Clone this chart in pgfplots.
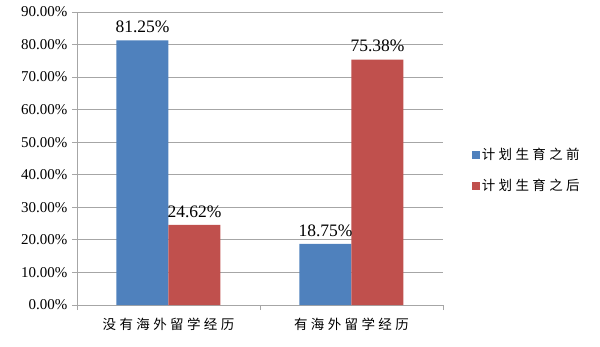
\documentclass[border=0pt]{standalone}
\usepackage{fontspec}
\setmainfont{Liberation Serif}
\newfontfamily\cjk[LetterSpace=25]{Noto Sans CJK SC}
\usepackage{pgfplots}
\pgfplotsset{compat=1.18}
\definecolor{barblue}{HTML}{4F81BD}
\definecolor{barred}{HTML}{C0504D}
\definecolor{gridgray}{HTML}{A6A6A6}
\begin{document}
\begin{tikzpicture}
\useasboundingbox (-77pt,-41pt) rectangle (523pt,305pt);
\begin{axis}[
  at={(0pt,0pt)}, anchor=south west,
  scale only axis,
  width=366pt, height=293pt,
  ybar=0pt, bar width=52pt,
  xmin=-0.5, xmax=1.5,
  ymin=0, ymax=90,
  ytick={0,10,...,90},
  yticklabel={\pgfmathprintnumber[fixed,fixed zerofill,precision=2]{\tick}\%},
  /pgf/number format/assume math mode=true,
  yticklabel style={font=\fontsize{15}{16}\selectfont, xshift=-1pt},
  ymajorgrids, grid style={gridgray, line width=0.8pt},
  axis x line*=bottom, axis y line*=left,
  axis line style={gridgray, line width=0.8pt},
  tick style={gridgray, line width=0.8pt},
  tick align=outside, major tick length=5pt,
  xtick={-0.5,0.5,1.5}, xticklabels={},
  extra x ticks={0,1},
  extra x tick labels={没有海外留学经历,有海外留学经历},
  extra x tick style={major tick length=0pt, grid=none,
    xticklabel style={font=\cjk\fontsize{13.5}{14}\selectfont, yshift=-10pt}},
  nodes near coords={\pgfmathprintnumber[fixed,fixed zerofill,precision=2]{\pgfplotspointmeta}\%},
  nodes near coords style={font=\fontsize{17.5}{18}\selectfont, text=black, yshift=4pt,
    /pgf/number format/assume math mode=true},
  legend style={draw=none, at={(1.07,0.46)}, anchor=west,
    font=\cjk\fontsize{13.5}{14}\selectfont, row sep=14pt,
    /tikz/every even column/.append style={column sep=6pt}},
  legend cell align=left,
]
\addplot[fill=barblue, draw=none,
  legend image code/.code={\fill[barblue] (2pt,-4pt) rectangle (10pt,4pt);}]
  coordinates {(0,81.25) (1,18.75)};
\addplot[fill=barred, draw=none,
  legend image code/.code={\fill[barred] (2pt,-4pt) rectangle (10pt,4pt);}]
  coordinates {(0,24.62) (1,75.38)};
\legend{计划生育之前,计划生育之后}
\end{axis}
\end{tikzpicture}
\end{document}
